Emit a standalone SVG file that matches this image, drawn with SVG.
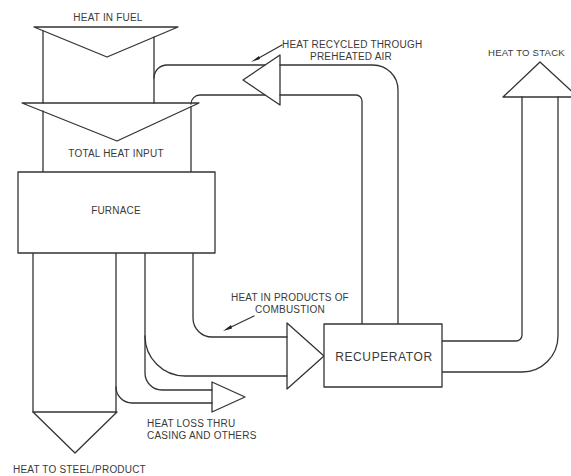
<svg xmlns="http://www.w3.org/2000/svg" width="571" height="476" viewBox="0 0 571 476">
<style>
.l{fill:none;stroke:#333;stroke-width:1.3;stroke-linejoin:round;stroke-linecap:round}
.b{fill:#fff;stroke:#333;stroke-width:1.3;stroke-linejoin:round}
.t{font-family:"Liberation Sans",Arial,sans-serif;font-size:10px;fill:#3a3a3a;letter-spacing:0.2px}
.c{text-anchor:middle}
.ah{fill:#222;stroke:none}
</style>
<rect width="571" height="476" fill="#fff"/>
<g id="connectors">
<path class="l" d="M43,31 L43,103 M154,37 L154,103"/>
<path class="l" d="M43,111 L43,172 M191,107 L191,172"/>
<path class="l" d="M154,78 A13,13 0 0 1 167,65 L265,65 M280,65 L373,65 A25,25 0 0 1 398,90 L398,324"/>
<path class="l" d="M191,104 A9,9 0 0 1 200,95 L265,95 M280,95 L356,95 A6,6 0 0 1 362,101 L362,324"/>
<path class="l" d="M33,253 L33,412 M116,253 L116,412"/>
<path class="l" d="M116,387 A16,16 0 0 0 132,403 L212,403"/>
<path class="l" d="M145,253 L145,373 A17,17 0 0 0 162,390 L212,390"/>
<path class="l" d="M145,336 A40,40 0 0 0 185,376 L287,376"/>
<path class="l" d="M193,253 L193,318 A19,19 0 0 0 212,337 L287,337"/>
<path class="l" d="M442,341 L516,341 A6,6 0 0 0 522,335 L522,97"/>
<path class="l" d="M442,372 L522,372 A36,36 0 0 0 558,336 L558,97"/>
<path class="l" d="M282,45 L257,59" stroke-width="1"/>
<polygon class="ah" points="251,62 259,56 260,59"/>
<path class="l" d="M254,316 L229,328" stroke-width="1"/>
<polygon class="ah" points="223,331 231,325 232,328.5"/>
</g>
<g id="heat-in-fuel">
<polygon class="l" points="34,27 178,27 107,57"/>
<text class="t c" x="108" y="21">HEAT IN FUEL</text>
</g>
<g id="total-heat-input">
<polygon class="l" points="22,103 199,103 117,141"/>
<text class="t c" x="116" y="157">TOTAL HEAT INPUT</text>
</g>
<g id="furnace">
<rect class="b" x="18" y="172" width="197" height="81"/>
<text class="t c" x="116" y="214">FURNACE</text>
</g>
<g id="heat-recycled">
<polygon class="l" points="280,55 280,105 243,80"/>
<text class="t" x="282" y="48">HEAT RECYCLED THROUGH</text>
<text class="t c" x="351" y="60">PREHEATED AIR</text>
</g>
<g id="heat-to-stack">
<polygon class="l" points="503,97 578,97 540,62"/>
<text class="t" x="488" y="56" style="font-size:9.6px">HEAT TO STACK</text>
</g>
<g id="heat-to-steel">
<polygon class="l" points="33,412 117,412 75,453"/>
<text class="t" x="13" y="473">HEAT TO STEEL/PRODUCT</text>
</g>
<g id="heat-loss">
<polygon class="l" points="212,382 212,412 245,397"/>
<text class="t" x="147" y="427">HEAT LOSS THRU</text>
<text class="t" x="147" y="439">CASING AND OTHERS</text>
</g>
<g id="products-of-combustion">
<polygon class="l" points="287,323 287,389 324,356"/>
<text class="t c" x="290" y="301">HEAT IN PRODUCTS OF</text>
<text class="t c" x="290" y="313">COMBUSTION</text>
</g>
<g id="recuperator">
<rect class="b" x="324" y="324" width="118" height="63"/>
<text class="t c" x="384" y="361" style="font-size:12px;letter-spacing:0.6px">RECUPERATOR</text>
</g>
</svg>
